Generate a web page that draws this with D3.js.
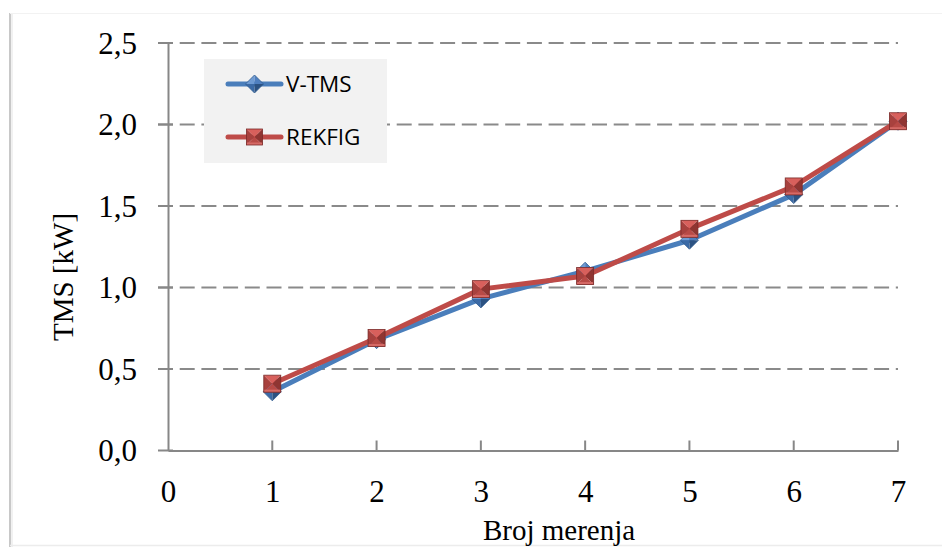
<!DOCTYPE html>
<html>
<head>
<meta charset="utf-8">
<script src="https://cdn.jsdelivr.net/npm/d3@7/dist/d3.min.js"></script>
<style>
  html, body { margin: 0; padding: 0; background: #ffffff; }
  svg { display: block; }
</style>
</head>
<body>
<svg id="chart" width="942" height="547"></svg>
<script>
// ---- Data ----
const xValues = [1, 2, 3, 4, 5, 6, 7];
const vtms = [0.36, 0.68, 0.93, 1.10, 1.29, 1.57, 2.02];
const rekfig = [0.41, 0.69, 0.99, 1.07, 1.36, 1.62, 2.02];
const seriesNames = ["V-TMS", "REKFIG"];
const xTicks = [0, 1, 2, 3, 4, 5, 6, 7];
const yTicks = [0, 0.5, 1.0, 1.5, 2.0, 2.5];
const xTitle = "Broj merenja";
const yTitle = "TMS [kW]";

// ---- Layout ----
const svg = d3.select("#chart");
const plot = { left: 168, right: 898, top: 43, bottom: 450.5 };
const x = d3.scaleLinear().domain([0, 7]).range([plot.left, plot.right]);
const y = d3.scaleLinear().domain([0, 2.5]).range([plot.bottom, plot.top]);
const fmt = v => d3.format(".1f")(v).replace(".", ",");

const serif = "'Liberation Serif', 'DejaVu Serif', serif";
const sans = "'Open Sans', 'Noto Sans', 'Liberation Sans', sans-serif";
const axisColor = "#878787";

// outer chart frame
svg.append("line").attr("x1", 10).attr("x2", 10).attr("y1", 13).attr("y2", 547)
  .attr("stroke", "#c8c8c8").attr("stroke-width", 2);
svg.append("line").attr("x1", 12).attr("x2", 12).attr("y1", 14).attr("y2", 547)
  .attr("stroke", "#ececec").attr("stroke-width", 1.5);
svg.append("line").attr("x1", 10).attr("x2", 942).attr("y1", 13.5).attr("y2", 13.5)
  .attr("stroke", "#f2f2f2").attr("stroke-width", 1);
svg.append("line").attr("x1", 10).attr("x2", 942).attr("y1", 545.5).attr("y2", 545.5)
  .attr("stroke", "#ececec").attr("stroke-width", 1.5);

// gridlines (dashed) for y > 0
svg.append("g").selectAll("line").data(yTicks.filter(d => d > 0)).join("line")
  .attr("x1", plot.left - 10).attr("x2", plot.right)
  .attr("y1", d => y(d)).attr("y2", d => y(d))
  .attr("stroke", "#8a8a8a").attr("stroke-width", 2)
  .attr("stroke-dasharray", "15,6.7");

// Y axis
const yAxis = d3.axisLeft(y).tickValues(yTicks).tickFormat(fmt).tickSize(0);
const gy = svg.append("g").attr("transform", `translate(${plot.left},0)`).call(yAxis);
gy.select(".domain").attr("stroke", axisColor).attr("stroke-width", 2);
gy.selectAll("text").attr("font-family", serif).attr("font-size", 31)
  .attr("fill", "#000").attr("x", -31).attr("dy", "0.33em");
// y tick marks crossing the axis
svg.append("g").selectAll("line").data(yTicks).join("line")
  .attr("x1", plot.left - 10).attr("x2", plot.left + 5)
  .attr("y1", d => y(d)).attr("y2", d => y(d))
  .attr("stroke", axisColor).attr("stroke-width", 2);

// X axis
const xAxis = d3.axisBottom(x).tickValues(xTicks).tickFormat(d3.format("d")).tickSize(0);
const gx = svg.append("g").attr("transform", `translate(0,${plot.bottom})`).call(xAxis);
gx.select(".domain").attr("stroke", axisColor).attr("stroke-width", 2);
gx.selectAll("text").attr("font-family", serif).attr("font-size", 31)
  .attr("fill", "#000").attr("y", 51).attr("dy", 0);
// x tick marks inward
svg.append("g").selectAll("line").data(xTicks.filter(d => d > 0)).join("line")
  .attr("x1", d => x(d)).attr("x2", d => x(d))
  .attr("y1", plot.bottom - 10).attr("y2", plot.bottom)
  .attr("stroke", axisColor).attr("stroke-width", 2);

// Axis titles
svg.append("text").attr("x", 559).attr("y", 540).attr("text-anchor", "middle")
  .attr("font-family", serif).attr("font-size", 29).attr("fill", "#000").text(xTitle);
svg.append("text").attr("transform", "translate(73,277) rotate(-90)")
  .attr("text-anchor", "middle").attr("font-family", serif).attr("font-size", 29)
  .attr("fill", "#000").text(yTitle);

// ---- Markers ----
function diamond(g, cx, cy, r) {
  const pts = { t: [cx, cy - r], r: [cx + r, cy], b: [cx, cy + r], l: [cx - r, cy], c: [cx, cy] };
  const face = (a, b, c, fill) => g.append("path")
    .attr("d", d3.line()([a, b, c]) + "Z").attr("fill", fill);
  face(pts.t, pts.l, pts.c, "#6f9bd3");
  face(pts.t, pts.r, pts.c, "#4f7fbf");
  face(pts.l, pts.b, pts.c, "#3b6aa6");
  face(pts.r, pts.b, pts.c, "#2c5282");
  g.append("path").attr("d", d3.line()([pts.t, pts.r, pts.b, pts.l]) + "Z")
    .attr("fill", "none").attr("stroke", "#2f5a8f").attr("stroke-width", 0.8);
}
function square(g, cx, cy, r) {
  const tl = [cx - r, cy - r], tr = [cx + r, cy - r], br = [cx + r, cy + r], bl = [cx - r, cy + r], c = [cx, cy];
  const face = (a, b, cc, fill) => g.append("path")
    .attr("d", d3.line()([a, b, cc]) + "Z").attr("fill", fill);
  face(tl, tr, c, "#d8605c");
  face(tl, bl, c, "#a8413e");
  face(tr, br, c, "#8f3532");
  face(bl, br, c, "#b84a46");
  g.append("rect").attr("x", cx - r).attr("y", cy + r - 2.5).attr("width", 2 * r).attr("height", 2.5)
    .attr("fill", "#d66a66");
  g.append("rect").attr("x", cx - r).attr("y", cy - r).attr("width", 2 * r).attr("height", 2 * r)
    .attr("fill", "none").attr("stroke", "#7a2a28").attr("stroke-width", 0.8);
}

// ---- Series ----
const line = d3.line().x(d => x(d[0])).y(d => y(d[1]));
const blueData = xValues.map((v, i) => [v, vtms[i]]);
const redData = xValues.map((v, i) => [v, rekfig[i]]);

svg.append("path").datum(blueData).attr("d", line).attr("fill", "none")
  .attr("stroke", "#4a7ebb").attr("stroke-width", 5).attr("stroke-linejoin", "round");
const gBlue = svg.append("g");
blueData.forEach(d => diamond(gBlue, x(d[0]), y(d[1]), 9));

svg.append("path").datum(redData).attr("d", line).attr("fill", "none")
  .attr("stroke", "#be4b48").attr("stroke-width", 5).attr("stroke-linejoin", "round");
const gRed = svg.append("g");
redData.forEach(d => square(gRed, x(d[0]), y(d[1]), 8.5));

// ---- Legend ----
const lg = svg.append("g");
lg.append("rect").attr("x", 204).attr("y", 59).attr("width", 183).attr("height", 104).attr("fill", "#f2f2f2");
const legendRows = [
  { name: seriesNames[0], color: "#4a7ebb", y: 84, marker: diamond, r: 9 },
  { name: seriesNames[1], color: "#be4b48", y: 137, marker: square, r: 8 }
];
legendRows.forEach(row => {
  lg.append("line").attr("x1", 228).attr("x2", 281).attr("y1", row.y).attr("y2", row.y)
    .attr("stroke", row.color).attr("stroke-width", 5).attr("stroke-linecap", "round");
  const mg = lg.append("g");
  row.marker(mg, 254.5, row.y, row.r);
  lg.append("text").attr("x", 286).attr("y", row.y).attr("dy", "0.36em")
    .attr("font-family", sans).attr("font-size", 22.5).attr("fill", "#000").text(row.name);
});
</script>
</body>
</html>
